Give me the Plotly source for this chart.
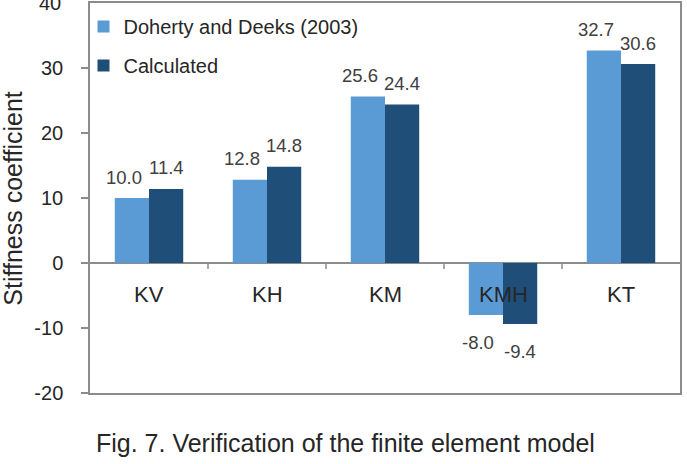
import plotly.graph_objects as go

categories = ["KV", "KH", "KM", "KMH", "KT"]
doherty = [10.0, 12.8, 25.6, -8.0, 32.7]
calculated = [11.4, 14.8, 24.4, -9.4, 30.6]
series_names = ["Doherty and Deeks (2003)", "Calculated"]
y_ticks = [-20, -10, 0, 10, 20, 30, 40]
y_ticktext = ["-20", "-10", "0", "10", "20", "30", "40"]
caption = "Fig. 7. Verification of the finite element model"
y_title = "Stiffness coefficient"

light = "#5B9BD5"
dark = "#1F4E79"
axis_col = "#8C8C8C"
font_fam = "Arial, Liberation Sans, sans-serif"

fig = go.Figure()
fig.add_trace(go.Bar(x=categories, y=doherty, name=series_names[0],
                     marker=dict(color=light, line=dict(width=0)), legendgroup="a"))
fig.add_trace(go.Bar(x=categories, y=calculated, name=series_names[1],
                     marker=dict(color=dark, line=dict(width=0)), legendgroup="b"))

annotations = []
for vals, xs in ((doherty, -25), (calculated, 17)):
    for c, v in zip(categories, vals):
        annotations.append(dict(x=c, y=v, xref="x", yref="y", text=f"{v:.1f}",
                                showarrow=False, xshift=xs,
                                yshift=21 if v >= 0 else -27,
                                font=dict(size=18.5, color="#404040", family=font_fam)))
for c in categories:
    annotations.append(dict(x=c, y=0, xref="x", yref="y", text=c, showarrow=False,
                            yshift=-31, font=dict(size=22, color="#262626", family=font_fam)))
# top tick label sits on the page edge (half cut off), plotly drops it, so draw it
annotations.append(dict(x=0, y=y_ticks[-1], xref="paper", yref="y", text=y_ticktext[-1],
                        showarrow=False, xanchor="right", yanchor="middle", xshift=-27,
                        font=dict(size=20, color="#262626", family=font_fam)))
annotations.append(dict(x=-0.131, y=0.5, xref="paper", yref="paper", text=y_title,
                        textangle=-90, showarrow=False, xanchor="center", yanchor="middle",
                        font=dict(size=25, color="#262626", family=font_fam)))
annotations.append(dict(x=0.433, y=-0.1276, xref="paper", yref="paper", text=caption,
                        showarrow=False, xanchor="center", yanchor="middle",
                        font=dict(size=25, color="#262626", family=font_fam)))

shapes = []
for i in range(len(categories) - 1):
    shapes.append(dict(type="line", xref="x", yref="y", x0=i + 0.5, x1=i + 0.5,
                       ysizemode="pixel", yanchor=0, y0=0, y1=-6,
                       line=dict(color=axis_col, width=1.5)))

fig.update_layout(
    width=687, height=464,
    margin=dict(l=90, r=7, t=1, b=71),
    paper_bgcolor="white", plot_bgcolor="white",
    barmode="group", bargap=0.42, bargroupgap=0,
    showlegend=True,
    legend=dict(x=-0.011, y=0.99, xanchor="left", yanchor="top",
                bgcolor="rgba(0,0,0,0)", tracegroupgap=10,
                font=dict(size=20, color="#262626", family=font_fam)),
    xaxis=dict(showticklabels=False, ticks="", showline=True, mirror=True,
               linecolor=axis_col, linewidth=1.5, showgrid=False, zeroline=False,
               range=[-0.5, len(categories) - 0.5]),
    yaxis=dict(range=[-20, 40], tickvals=y_ticks[:-1], ticktext=y_ticktext[:-1],
               ticks="outside", ticklen=7,
               tickcolor=axis_col, tickwidth=1.5, showline=True, mirror=True,
               linecolor=axis_col, linewidth=1.5, showgrid=False,
               zeroline=True, zerolinecolor=axis_col, zerolinewidth=1.5,
               tickfont=dict(size=20, color="#262626", family=font_fam), ticklabelstandoff=14),
    annotations=annotations, shapes=shapes,
)

fig.write_html("out.html")
